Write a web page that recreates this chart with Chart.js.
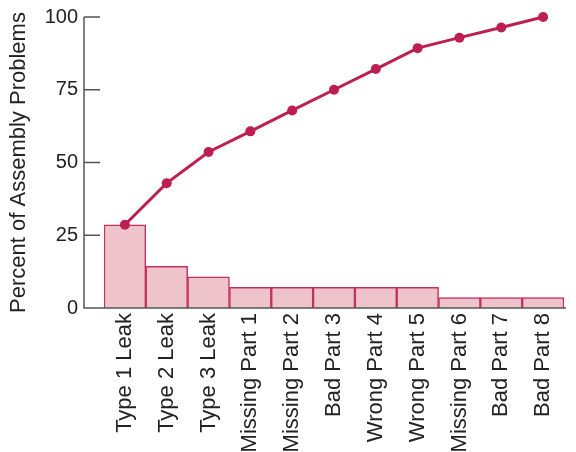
<!DOCTYPE html>
<html>
<head>
<meta charset="utf-8">
<script src="https://cdn.jsdelivr.net/npm/chart.js@4/dist/chart.umd.min.js"></script>
<style>
  html, body { margin: 0; padding: 0; background: #fff; }
  #wrap { width: 576px; height: 452px; position: relative; }
</style>
</head>
<body>
<div id="wrap"><canvas id="c" width="576" height="452"></canvas></div>
<script>
// Assembly problem categories, sorted by frequency (Pareto order)
const categories = [
  'Type 1 Leak', 'Type 2 Leak', 'Type 3 Leak', 'Missing Part 1', 'Missing Part 2',
  'Bad Part 3', 'Wrong Part 4', 'Wrong Part 5', 'Missing Part 6', 'Bad Part 7', 'Bad Part 8'
];
// Percent of all assembly problems for each category
const percentValues = [28.6, 14.3, 10.7, 7.1, 7.1, 7.1, 7.1, 7.1, 3.6, 3.6, 3.6];
// Cumulative percent
const cumulativeValues = [28.6, 42.9, 53.6, 60.7, 67.9, 75.0, 82.1, 89.3, 92.9, 96.4, 100];
// Y axis tick labels
const yTicks = [0, 25, 50, 75, 100];

const FONT = "'Liberation Sans', Arial, Helvetica, sans-serif";
const AXIS_COLOR = '#555555';
const TEXT_COLOR = '#222222';
const MAROON = '#bd1f52';

// Axis line, inward tick marks and baseline drawn 20px left of the plot area
const axisPlugin = {
  id: 'axisLines',
  afterDatasetsDraw(chart) {
    const { ctx, chartArea, scales } = chart;
    const y = scales.y;
    const axisX = chartArea.left - 20;
    const baseY = y.getPixelForValue(0);
    ctx.save();
    ctx.strokeStyle = AXIS_COLOR;
    ctx.lineWidth = 1.5;
    ctx.beginPath();
    ctx.moveTo(axisX, y.getPixelForValue(100));
    ctx.lineTo(axisX, baseY);
    ctx.lineTo(chartArea.right + 2, baseY);
    yTicks.forEach(v => {
      const py = y.getPixelForValue(v);
      ctx.moveTo(axisX, py);
      ctx.lineTo(axisX + 16, py);
    });
    ctx.stroke();
    ctx.restore();
  }
};

new Chart(document.getElementById('c'), {
  data: {
    labels: categories,
    datasets: [
      {
        type: 'line',
        data: cumulativeValues,
        borderColor: MAROON,
        backgroundColor: MAROON,
        borderWidth: 3,
        pointRadius: 5,
        pointHoverRadius: 5,
        pointBackgroundColor: MAROON,
        pointBorderWidth: 0,
        tension: 0,
        clip: false,
        order: 0
      },
      {
        type: 'bar',
        data: percentValues,
        backgroundColor: '#efc3cb',
        borderColor: '#c4305e',
        borderWidth: 1.5,
        barPercentage: 1,
        categoryPercentage: 1,
        order: 1
      }
    ]
  },
  options: {
    responsive: false,
    animation: false,
    layout: { padding: { top: 17, right: 12, left: 0, bottom: 0 } },
    plugins: { legend: { display: false }, tooltip: { enabled: false } },
    scales: {
      x: {
        type: 'category',
        offset: true,
        grid: { display: false, drawTicks: false },
        border: { display: false },
        afterFit(scale) {
          scale.height = 144;
          scale.paddingLeft = 0;
          scale.paddingRight = 0;
        },
        ticks: {
          minRotation: 90,
          maxRotation: 90,
          autoSkip: false,
          padding: 5,
          color: TEXT_COLOR,
          font: { family: FONT, size: 22 }
        }
      },
      y: {
        min: 0,
        max: 100,
        afterFit(scale) {
          scale.width = 104;
          scale.paddingTop = 0;
          scale.paddingBottom = 0;
        },
        afterBuildTicks(scale) { scale.ticks = yTicks.map(v => ({ value: v })); },
        grid: { display: false, drawTicks: false },
        border: { display: false },
        ticks: {
          padding: 26,
          color: TEXT_COLOR,
          font: { family: FONT, size: 20 }
        },
        title: {
          display: true,
          text: 'Percent of Assembly Problems',
          color: TEXT_COLOR,
          font: { family: FONT, size: 22 },
          padding: { top: 6, bottom: 0 }
        }
      }
    }
  },
  plugins: [axisPlugin]
});
</script>
</body>
</html>
